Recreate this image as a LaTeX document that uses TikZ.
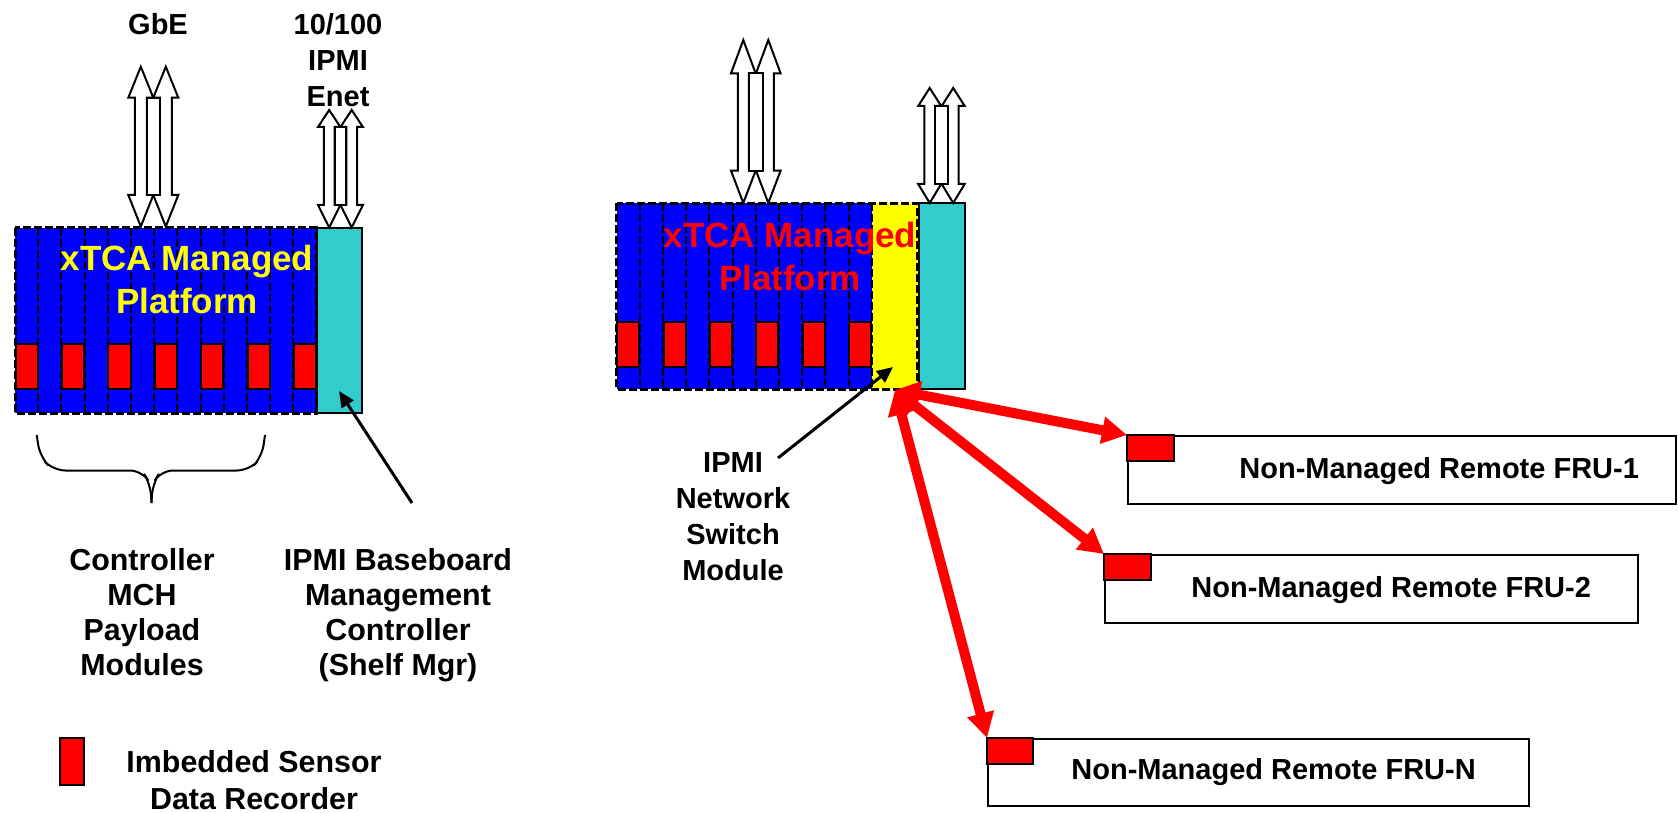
\documentclass[tikz,border=0pt]{standalone}
\usepackage{fontspec}
\setmainfont{Liberation Sans}
\usetikzlibrary{arrows.meta}
\definecolor{pblue}{RGB}{0,0,255}
\definecolor{pteal}{RGB}{51,204,204}
\definecolor{pyellow}{RGB}{255,255,0}
\definecolor{pred}{RGB}{255,0,0}
\newcommand\blkpair[8]{%
  \foreach \c in {#1,#1+#2} {
    \draw[blockarrow] ({\c},#5) -- ({\c+#3},#6) -- ({\c+#4},#6) -- ({\c+#4},#7) -- ({\c+#3},#7) -- ({\c},#8) -- ({\c-#3},#7) -- ({\c-#4},#7) -- ({\c-#4},#6) -- ({\c-#3},#6) -- cycle;
  }
  \draw[blockarrow] ({#1+#4},#6) rectangle ({#1+#2-#4},#7);
}
\tikzset{
  lbl/.style={font=\fontsize{14.5}{17.5}\selectfont\bfseries, align=center, inner sep=0pt, anchor=north},
  biglbl/.style={font=\fontsize{15.2}{17.5}\selectfont\bfseries, align=center, inner sep=0pt, anchor=north},
  plat/.style={font=\fontsize{17.5}{21.5}\selectfont\bfseries, align=center, inner sep=0pt, anchor=north},
  slotline/.style={draw=black, line width=1pt, dash pattern=on 4pt off 1.5pt},
  outerdash/.style={draw=black, line width=1.5pt, dash pattern=on 4pt off 1.5pt},
  sensor/.style={draw=black, fill=pred, line width=1pt},
  tealbox/.style={draw=black, fill=pteal, line width=1pt},
  blockarrow/.style={draw=black, fill=white, line width=1pt, line join=miter},
  ptr/.style={draw=black, line width=1.5pt, -{Triangle[length=8pt,width=7pt]}},
  redarrow/.style={draw=pred, line width=5pt, {Triangle[length=12.5pt,width=13pt]}-{Triangle[length=12.5pt,width=13pt]}},
  frubox/.style={draw=black, line width=0.75pt, fill=white, inner sep=0pt, anchor=north west},
  frutext/.style={font=\fontsize{14.5}{17.5}\selectfont\bfseries, inner sep=0pt, anchor=base west},
}
\begin{document}
\begin{tikzpicture}[x=0.5pt,y=-0.5pt]
\useasboundingbox (0,0) rectangle (1678,813);

% ---------- left platform ----------
\fill[pblue] (15,228) rectangle (316.7,413);
\foreach \i in {1,...,12} \draw[slotline] ({15+\i*23.2},228) -- ({15+\i*23.2},413);
\foreach \i in {0,2,...,12} \draw[sensor] ({15+\i*23.2+0.5},344) rectangle ({15+(\i+1)*23.2-0.5},389);
\draw[outerdash] (15,228) rectangle (316.7,413);
\draw[tealbox] (316.7,228) rectangle (362,413);
\coordinate (bmc) at (339,391);
\node[plat, text=pyellow] (lptext) at (187,245) {xTCA Managed\\Platform};

% ---------- right platform ----------
\fill[pblue] (616.7,203.3) rectangle (871.7,389.3);
\foreach \i in {1,...,10} \draw[slotline] ({616.7+\i*23.18},203.3) -- ({616.7+\i*23.18},389.3);
\foreach \i in {0,2,...,10} \draw[sensor] ({616.7+\i*23.18+0.5},321.7) rectangle ({616.7+(\i+1)*23.18-0.5},366.7);
\fill[pyellow] (871.7,203.3) rectangle (917.7,389.3);
\draw[slotline] (871.7,203.3) -- (871.7,389.3);
\draw[outerdash] (616.7,203.3) rectangle (917.7,389.3);
\draw[tealbox] (918.5,203.3) rectangle (965,389.3);
\coordinate (sw) at (893,367);
\coordinate (hub) at (895,390);
\node[plat, text=pred] (rptext) at (790,222) {xTCA Managed\\Platform};

% ---------- block arrows ----------
\blkpair{140.8}{25}{12.5}{6}{66.7}{97.7}{195}{226.5}
\blkpair{329.2}{22.5}{11.2}{5.3}{110}{127}{205}{227.5}
\blkpair{743.3}{25}{12.3}{5.5}{40}{73.3}{170.7}{203}
\blkpair{929.7}{23.5}{11.5}{5.3}{88}{106}{184}{203}

% ---------- top labels ----------
\node[lbl] (gbe) at (158,13.3) {GbE};
\node[lbl, font=\fontsize{14.5}{18}\selectfont\bfseries] (ipmienet) at (338,13.3) {10/100\\IPMI\\Enet};

% ---------- brace ----------
\draw[line width=1pt, rounded corners=6pt] (36.7,435) -- (40,456.7) -- (53.3,470.5) -- (142,470.5) -- (150.5,484) -- (151.5,503);
\draw[line width=1pt, rounded corners=6pt] (265,435) -- (262,456.7) -- (249,470.5) -- (161,470.5) -- (152.5,484) -- (151.5,503);

% ---------- bottom-left labels ----------
\node[biglbl] (ctrl) at (142,548) {Controller\\MCH\\Payload\\Modules};
\node[biglbl] (bmclbl) at (398,548) {IPMI Baseboard\\Management\\Controller\\(Shelf Mgr)};
\coordinate (bmcfrom) at (412,503);
\draw[ptr] (bmcfrom) -- (bmc);

% ---------- legend ----------
\draw[sensor] (60,738.3) rectangle (84,785);
\node[biglbl, font=\fontsize{15.2}{18.5}\selectfont\bfseries] (legend) at (254,750) {Imbedded Sensor\\Data Recorder};

% ---------- switch label ----------
\node[lbl, font=\fontsize{14.5}{18}\selectfont\bfseries] (swlbl) at (733,451.7) {IPMI\\Network\\Switch\\Module};
\coordinate (swfrom) at (778,458);
\draw[ptr] (swfrom) -- (sw);

% ---------- FRU boxes ----------
\node[frubox, minimum width=274pt, minimum height=34pt] (fru1) at (1127,435) {};
\draw[sensor] (fru1.north west) rectangle ++(47,26);
\node[frutext] (fru1t) at (1239,478) {Non-Managed Remote FRU-1};

\node[frubox, minimum width=266.5pt, minimum height=34pt] (fru2) at (1104,554) {};
\draw[sensor] (fru2.north west) rectangle ++(47,26);
\node[frutext] (fru2t) at (1191,597) {Non-Managed Remote FRU-2};

\node[frubox, minimum width=270.5pt, minimum height=33.5pt] (frun) at (987,738) {};
\draw[sensor] (frun.north west) rectangle ++(46,26);
\node[frutext] (frunt) at (1071,779) {Non-Managed Remote FRU-N};

% ---------- red links ----------
\draw[redarrow] (hub) -- (fru1.north west);
\draw[redarrow] (hub) -- (fru2.north west);
\draw[redarrow] (hub) -- (frun.north west);
\end{tikzpicture}
\end{document}
